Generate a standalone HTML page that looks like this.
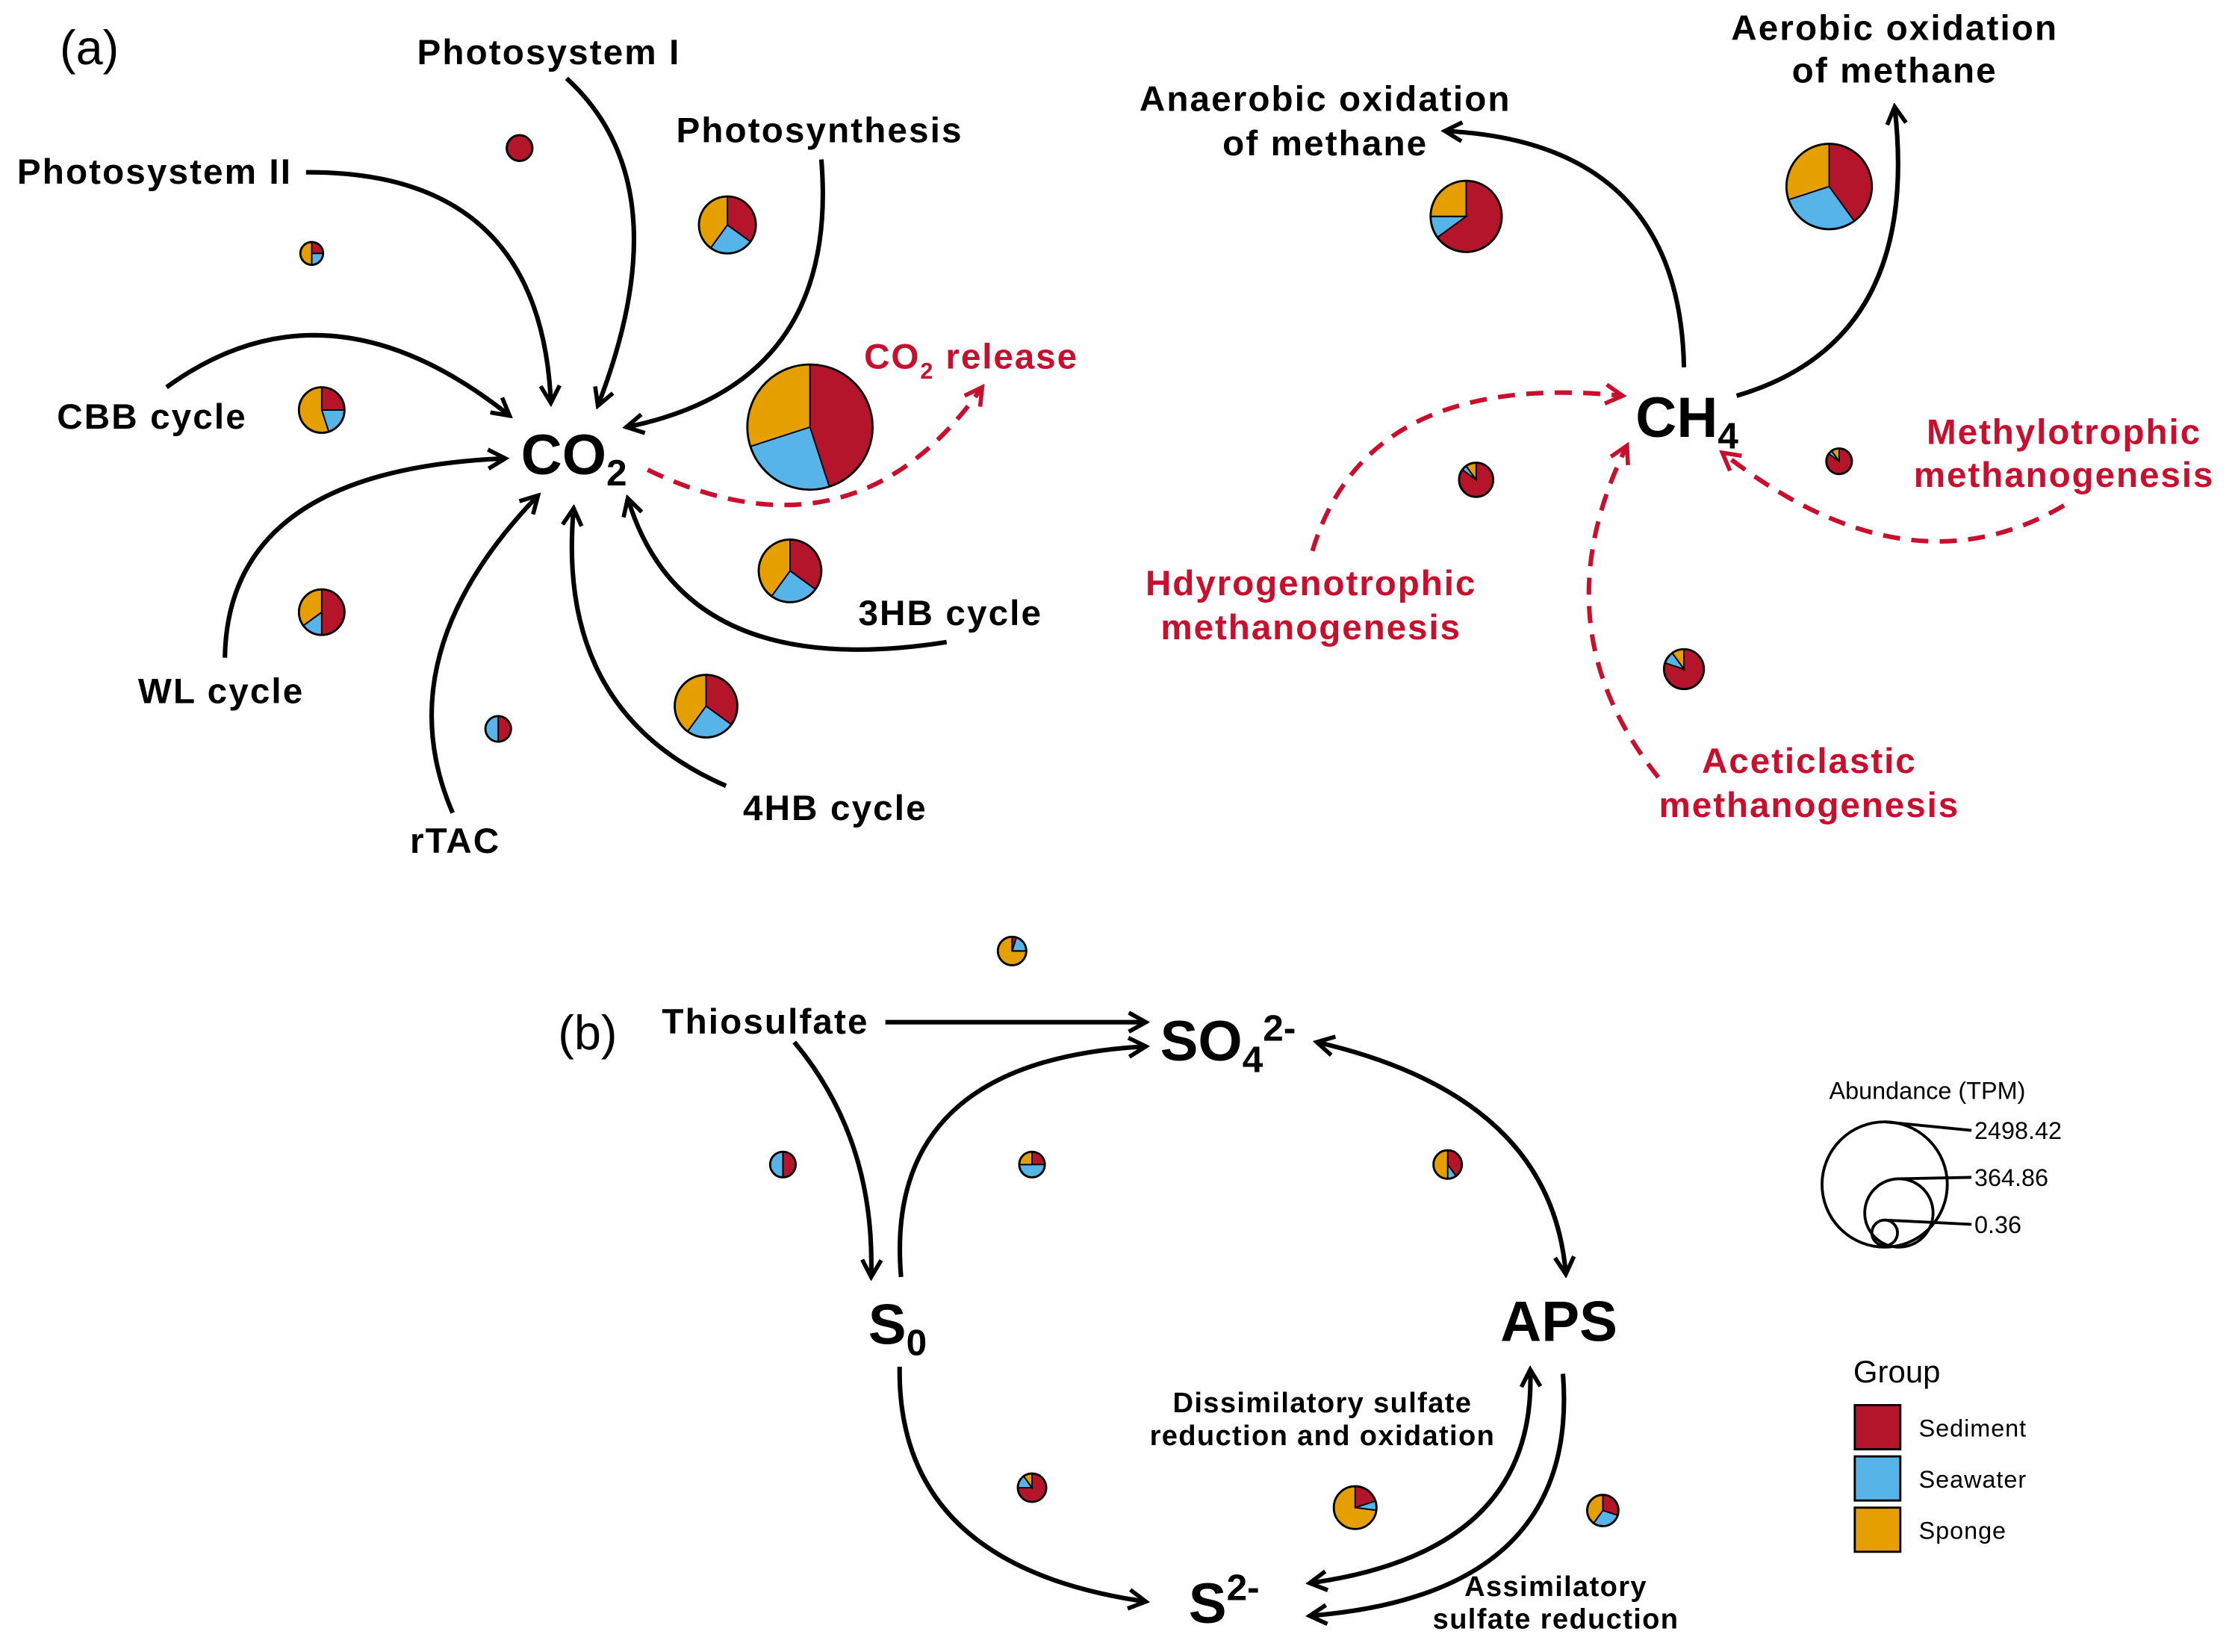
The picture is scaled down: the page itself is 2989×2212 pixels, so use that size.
<!DOCTYPE html>
<html><head><meta charset="utf-8"><style>
html,body{margin:0;padding:0;background:#fff;}
svg{display:block;}
text{font-family:"Liberation Sans",Arial,sans-serif;}
</style></head><body>
<svg id="s" width="2989" height="2212" viewBox="0 0 1568 1160.4" xmlns="http://www.w3.org/2000/svg">
<defs>
<marker id="ak" viewBox="0 0 12 12" refX="10" refY="6" markerWidth="5" markerHeight="5" orient="auto-start-reverse" markerUnits="strokeWidth"><path d="M1,1 L10,6 L1,11" fill="none" stroke="#000" stroke-width="2.2"/></marker>
<marker id="ar" viewBox="0 0 12 12" refX="10" refY="6" markerWidth="5" markerHeight="5" orient="auto-start-reverse" markerUnits="strokeWidth"><path d="M1,1 L10,6 L1,11" fill="none" stroke="#C8102E" stroke-width="2.2"/></marker>
</defs>
<g fill="none" stroke="#000" stroke-width="3.2" marker-end="url(#ak)">
<path d="M215,121 Q380,120 387,283"/>
<path d="M398,55 Q480,130 420,285"/>
<path d="M577,112 Q590,270 440,300"/>
<path d="M117,272 Q230,190 358,292"/>
<path d="M158,462 Q160,330 355,322"/>
<path d="M318,571 Q270,460 378,348"/>
<path d="M510,552 Q390,500 403,357"/>
<path d="M665,451 Q480,480 441,350"/>
<path d="M1183,258 Q1180,100 1015,92"/>
<path d="M1220,278 Q1350,240 1331,75"/>
<path d="M622,718 L805,718"/>
<path d="M558,732 Q615,800 612,897"/>
<path d="M633,897 Q620,745 805,735"/>
<path d="M925,732 Q1090,770 1100,895" marker-start="url(#ak)"/>
<path d="M632,960 Q630,1100 805,1125"/>
<path d="M920,1112 Q1080,1090 1075,962" marker-start="url(#ak)"/>
<path d="M1098,965 Q1110,1120 920,1135"/>
</g>
<g fill="none" stroke="#C8102E" stroke-width="3.2" stroke-dasharray="12,8" marker-end="url(#ar)">
<path d="M455,330 Q600,400 690,272"/>
<path d="M922,387 Q960,260 1140,278"/>
<path d="M1450,355 Q1340,420 1210,318"/>
<path d="M1165,546 Q1080,440 1143,313"/>
</g>
<g id="pies" stroke="#000" stroke-width="1.5"></g>
<g font-size="25" font-weight="bold" letter-spacing="1.1">
<text x="293" y="45">Photosystem I</text>
<text x="12" y="129">Photosystem II</text>
<text x="475" y="100">Photosynthesis</text>
<text x="40" y="301">CBB cycle</text>
<text x="97" y="494">WL cycle</text>
<text x="288" y="599">rTAC</text>
<text x="522" y="576">4HB cycle</text>
<text x="603" y="439">3HB cycle</text>
<text x="1331" y="28" text-anchor="middle">Aerobic oxidation</text>
<text x="1331" y="58" text-anchor="middle">of methane</text>
<text x="931" y="78" text-anchor="middle">Anaerobic oxidation</text>
<text x="931" y="109" text-anchor="middle">of methane</text>
<text x="465" y="726">Thiosulfate</text>
</g>
<g font-size="25" font-weight="bold" fill="#C8102E" letter-spacing="1">
<text x="607" y="259">CO<tspan font-size="16" dy="7">2</tspan><tspan dy="-7"> release</tspan></text>
<text x="1450" y="312" text-anchor="middle">Methylotrophic</text>
<text x="1450" y="342" text-anchor="middle">methanogenesis</text>
<text x="921" y="418" text-anchor="middle">Hdyrogenotrophic</text>
<text x="921" y="449" text-anchor="middle">methanogenesis</text>
<text x="1271" y="543" text-anchor="middle">Aceticlastic</text>
<text x="1271" y="574" text-anchor="middle">methanogenesis</text>
</g>
<g font-weight="bold">
<text x="366" y="333" font-size="40">CO<tspan font-size="26" dy="8">2</tspan></text>
<text x="1149" y="307" font-size="40">CH<tspan font-size="26" dy="8">4</tspan></text>
<text x="815" y="745" font-size="40">SO<tspan font-size="26" dy="8">4</tspan><tspan font-size="26" dy="-22">2-</tspan></text>
<text x="610" y="944" font-size="40">S<tspan font-size="26" dy="8">0</tspan></text>
<text x="1054" y="942" font-size="40">APS</text>
<text x="835" y="1140" font-size="40">S<tspan font-size="26" dy="-16">2-</tspan></text>
<g font-size="20" text-anchor="middle" letter-spacing="0.7">
<text x="929" y="992">Dissimilatory sulfate</text>
<text x="929" y="1015">reduction and oxidation</text>
<text x="1093" y="1121">Assimilatory</text>
<text x="1093" y="1144">sulfate reduction</text>
</g>
</g>
<text x="42" y="45" font-size="34">(a)</text>
<text x="392" y="737" font-size="34">(b)</text>
<g font-size="17">
<text x="1285" y="772">Abundance (TPM)</text>
<text x="1387" y="800">2498.42</text>
<text x="1387" y="833">364.86</text>
<text x="1387" y="866">0.36</text>
</g>
<g fill="none" stroke="#000" stroke-width="2">
<circle cx="1324" cy="832" r="44"/>
<circle cx="1334" cy="852" r="24"/>
<circle cx="1324" cy="866" r="9"/>
<path d="M1324,788 L1385,794 M1334,828 L1385,827 M1324,857 L1385,860"/>
</g>
<text x="1302" y="971" font-size="22">Group</text>
<g stroke="#000" stroke-width="1.5">
<rect x="1303" y="987" width="32" height="31" fill="#B5152B"/>
<rect x="1303" y="1023" width="32" height="31" fill="#56B4E9"/>
<rect x="1303" y="1059" width="32" height="31" fill="#E69F00"/>
</g>
<g font-size="17" letter-spacing="0.5">
<text x="1348" y="1009">Sediment</text>
<text x="1348" y="1045">Seawater</text>
<text x="1348" y="1081">Sponge</text>
</g>
</svg>
<script>
var P=[[365,104,9,[1,0,0]],[219,178,8,[.25,.25,.5]],[511,158,20,[.35,.25,.4]],[226,288,16,[.25,.2,.55]],
[569,300,44,[.45,.25,.3]],[226,430,16,[.5,.15,.35]],[555,401,22,[.35,.25,.4]],[496,496,22,[.35,.25,.4]],
[350,512,9,[.5,.5,0]],[1030,152,25,[.65,.1,.25]],[1285,131,30,[.4,.3,.3]],[1037,337,12,[.85,.05,.1]],
[1292,324,9,[.85,.05,.1]],[1183,470,14,[.8,.1,.1]],[711,668,10,[.05,.2,.75]],[550,818,9,[.5,.5,0]],
[725,818,9,[.25,.5,.25]],[1017,818,10,[.4,.1,.5]],[725,1045,10,[.75,.15,.1]],[952,1059,15,[.2,.07,.73]],[1126,1061,11,[.3,.3,.4]]];
var C=["#B5152B","#56B4E9","#E69F00"],g=document.getElementById("pies"),h="";
P.forEach(function(p){var x=p[0],y=p[1],r=p[2],a=0;
p[3].forEach(function(f,i){if(f<=0)return;if(f>=1){h+='<circle cx="'+x+'" cy="'+y+'" r="'+r+'" fill="'+C[i]+'"/>';return;}
var a1=a,a2=a+f*2*Math.PI;a=a2;
var x1=x+r*Math.sin(a1),y1=y-r*Math.cos(a1),x2=x+r*Math.sin(a2),y2=y-r*Math.cos(a2);
h+='<path d="M'+x+','+y+' L'+x1+','+y1+' A'+r+','+r+' 0 '+(f>.5?1:0)+' 1 '+x2+','+y2+' Z" fill="'+C[i]+'" stroke-width="1"/>';});
h+='<circle cx="'+x+'" cy="'+y+'" r="'+r+'" fill="none"/>';});
g.innerHTML=h;
</script>
</body></html>
